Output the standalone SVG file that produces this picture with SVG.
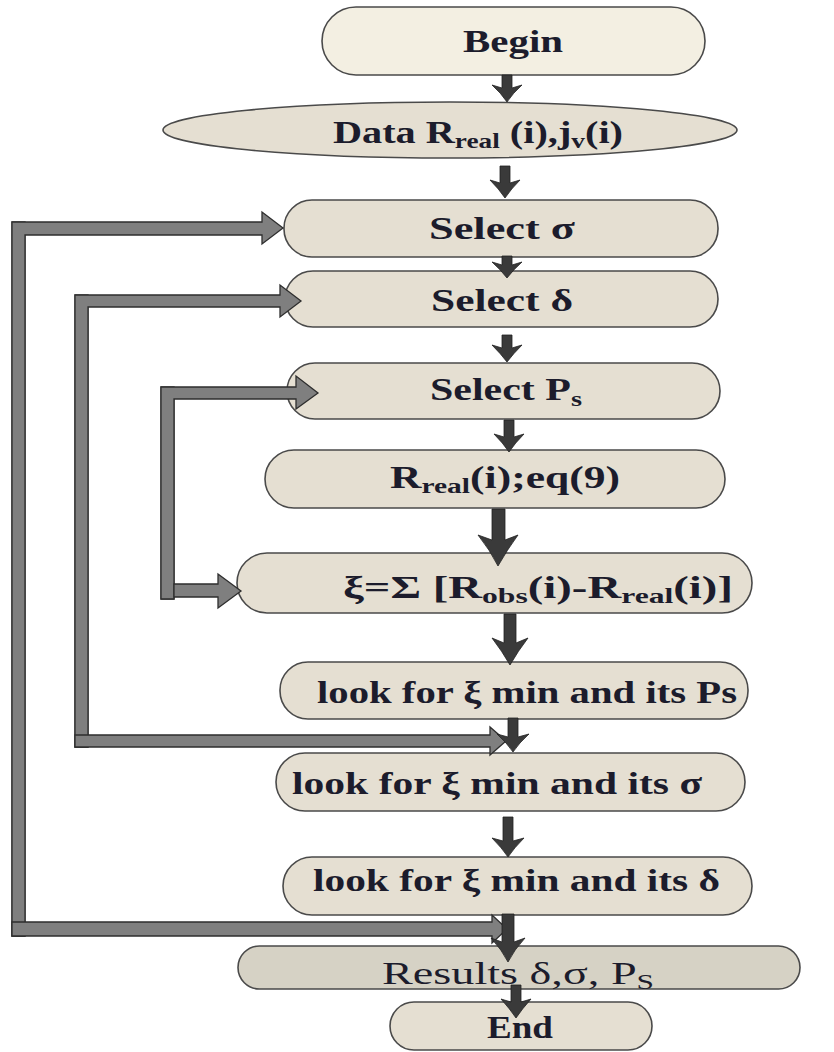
<svg xmlns="http://www.w3.org/2000/svg" width="834" height="1052" viewBox="0 0 834 1052">
<style>
.box{fill:#e5dfd2;stroke:#4a4a4a;stroke-width:1.6}
.begin{fill:#f3efe2}
.res{fill:#d6d2c5}
.t{font-family:"Liberation Serif","Times New Roman",serif;font-weight:bold;font-size:31px;fill:#1c1c2c}
.sub{font-size:21px}
.flow{fill:#3a3a3a;stroke:#222;stroke-width:0.8}
.loop{fill:#7f7f7f;stroke:#2e2e2e;stroke-width:1.3}
</style>
<rect width="834" height="1052" fill="#ffffff"/>
<g id="node-begin"><rect class="box begin" x="322" y="7" width="383" height="68" rx="34"/><text class="t" x="463" y="52" textLength="100" lengthAdjust="spacingAndGlyphs">Begin</text></g>
<g id="node-data"><ellipse class="box" cx="450" cy="130" rx="287" ry="28"/><text class="t" x="333" y="143" textLength="290" lengthAdjust="spacingAndGlyphs">Data R<tspan class="sub" dy="5">real</tspan><tspan dy="-5"> (i),j</tspan><tspan class="sub" dy="5">v</tspan><tspan dy="-5">(i)</tspan></text></g>
<g id="node-select-sigma"><rect class="box" x="284" y="200" width="434" height="57" rx="28"/><text class="t" x="429" y="239" textLength="146" lengthAdjust="spacingAndGlyphs">Select σ</text></g>
<g id="node-select-delta"><rect class="box" x="285" y="271" width="433" height="56" rx="28"/><text class="t" x="431" y="311" textLength="142" lengthAdjust="spacingAndGlyphs">Select δ</text></g>
<g id="node-select-ps"><rect class="box" x="287" y="363" width="433" height="56" rx="28"/><text class="t" x="430" y="400" textLength="152" lengthAdjust="spacingAndGlyphs">Select P<tspan class="sub" dy="6">s</tspan></text></g>
<g id="node-rreal"><rect class="box" x="265" y="450" width="460" height="58" rx="29"/><text class="t" x="390" y="488" textLength="230" lengthAdjust="spacingAndGlyphs">R<tspan class="sub" dy="5">real</tspan><tspan dy="-5">(i);eq(9)</tspan></text></g>
<g id="node-xi"><rect class="box" x="237" y="553" width="515" height="60" rx="30"/><text class="t" x="343" y="598" textLength="390" lengthAdjust="spacingAndGlyphs">ξ=Σ [R<tspan class="sub" dy="5">obs</tspan><tspan dy="-5">(i)-R</tspan><tspan class="sub" dy="5">real</tspan><tspan dy="-5">(i)]</tspan></text></g>
<g id="node-look-ps"><rect class="box" x="280" y="662" width="468" height="57" rx="28"/><text class="t" x="317" y="703" textLength="420" lengthAdjust="spacingAndGlyphs">look for ξ min and its Ps</text></g>
<g id="node-look-sigma"><rect class="box" x="276" y="753" width="469" height="58" rx="29"/><text class="t" x="292" y="794" textLength="410" lengthAdjust="spacingAndGlyphs">look for ξ min and its σ</text></g>
<g id="node-look-delta"><rect class="box" x="283" y="857" width="469" height="58" rx="29"/><text class="t" x="313" y="891" textLength="407" lengthAdjust="spacingAndGlyphs">look for ξ min and its δ</text></g>
<g id="node-results"><rect class="box res" x="238" y="946" width="562" height="43" rx="21.5"/><text class="t" style="font-weight:normal" x="382" y="984" textLength="272" lengthAdjust="spacingAndGlyphs">Results δ,σ, P<tspan class="sub" dy="5">S</tspan></text></g>
<g id="node-end"><rect class="box" x="390" y="1002" width="262" height="48" rx="24"/><text class="t" x="487" y="1038" textLength="66" lengthAdjust="spacingAndGlyphs">End</text></g>
<g id="connectors">
<rect class="loop" x="12" y="222" width="13" height="714"/>
<path class="loop" d="M12,222 H262 V212 L283,228 L262,244 V235 H25 V936 H12 Z"/>
<path class="loop" d="M25,922 H492 V915 L507,929 L492,943 V936 H12 V922 Z"/>
<rect class="loop" x="75" y="295" width="13" height="452"/>
<path class="loop" d="M75,295 H280 V285 L301,301 L280,317 V307 H88 V747 H75 Z"/>
<path class="loop" d="M88,735 H490 V727 L506,741 L490,755 V747 H75 V735 Z"/>
<rect class="loop" x="161" y="387" width="13" height="212"/>
<path class="loop" d="M161,387 H296 V376 L318,393 L296,409 V399 H174 V599 H161 Z"/>
<path class="loop" d="M174,584 H218 V574 L241,591 L218,608 V597 H174 Z"/>
<path class="flow" d="M502,75 H512 V88 L522,85 Q513,93 507,102 Q501,93 492,85 L502,88 Z"/>
<path class="flow" d="M500,166 H510 V183 L520,180 Q511,189 505,198 Q499,189 490,180 L500,183 Z"/>
<path class="flow" d="M502,256 H512 V265 L522,262 Q513,270 507,278 Q501,270 492,262 L502,265 Z"/>
<path class="flow" d="M502,335 H512 V348 L522,345 Q513,354 507,362 Q501,354 492,345 L502,348 Z"/>
<path class="flow" d="M504,420 H514 V437 L524,434 Q515,443 509,452 Q503,443 494,434 L504,437 Z"/>
<path class="flow" d="M492,509 H505 V540 L518,535 Q507,550 498,566 Q490,550 478,535 L492,540 Z"/>
<path class="flow" d="M504,614 H516 V643 L528,638 Q518,651 510,665 Q502,651 492,638 L504,643 Z"/>
<path class="flow" d="M508,718 H518 V737 L529,734 Q519,743 513,752 Q507,743 497,734 L508,737 Z"/>
<path class="flow" d="M503,817 H513 V841 L524,838 Q514,848 508,857 Q502,848 492,838 L503,841 Z"/>
<path class="flow" d="M502,914 H514 V942 L525,938 Q514,950 508,962 Q502,950 491,938 L502,942 Z"/>
<path class="flow" d="M511,985 H521 V1002 L531,999 Q522,1009 516,1018 Q510,1009 501,999 L511,1002 Z"/>
</g>
</svg>
